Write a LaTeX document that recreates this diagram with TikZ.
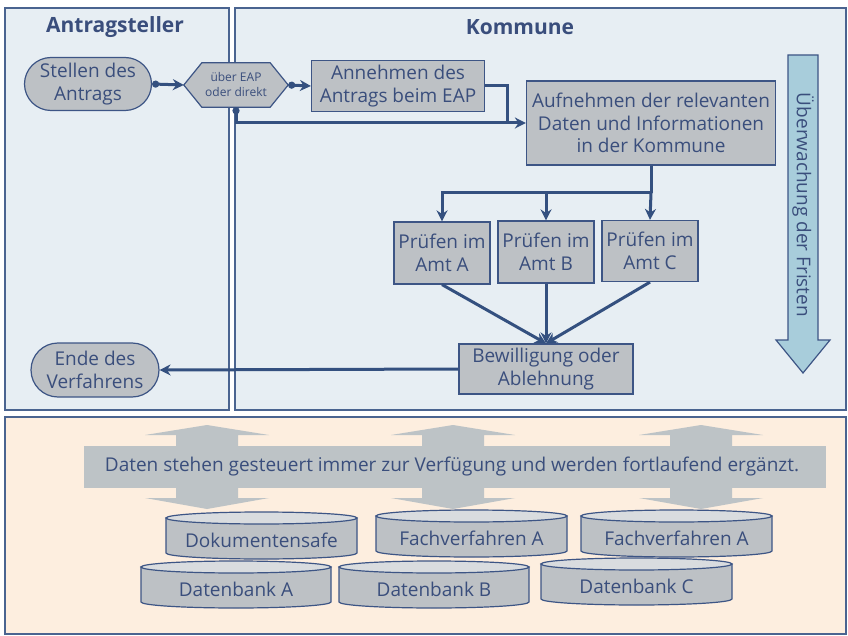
\documentclass[tikz,border=0pt]{standalone}
\usepackage{fontspec}
\setmainfont{Open Sans}
\usetikzlibrary{shapes.misc,arrows.meta,calc}
\definecolor{panelfill}{HTML}{E7EEF3}
\definecolor{panelline}{HTML}{4A6490}
\definecolor{nodefill}{HTML}{BDC1C5}
\definecolor{nodeline}{HTML}{3D5585}
\definecolor{txtcol}{HTML}{3A4E7C}
\definecolor{conn}{HTML}{34507F}
\definecolor{arrowfill}{HTML}{A8CDDB}
\definecolor{basefill}{HTML}{FDEEDF}
\definecolor{bandfill}{HTML}{BDC3C6}
\definecolor{disktop}{HTML}{D9DCDF}
\tikzset{
  panel/.style={draw=panelline,line width=1.2pt,fill=panelfill},
  title/.style={text=txtcol,font=\fontsize{21}{25}\selectfont\bfseries},
  txt/.style={text=txtcol,font=\fontsize{19}{22.5}\selectfont,align=center,inner sep=0pt},
  procbox/.style={draw=nodeline,line width=1.2pt,fill=nodefill,text=txtcol,font=\fontsize{19}{22.5}\selectfont,align=center,inner sep=1pt},
  pill/.style={procbox,rounded rectangle},
  conline/.style={draw=conn,line width=3pt},
  arr/.style={conline,-{Stealth[length=11pt,width=11pt]}},
  dotarr/.style={conline,{Circle[length=7pt]}-{Stealth[length=11pt,width=11pt]}},
  diskline/.style={draw=nodeline,line width=1.2pt},
}
\newcommand\dbdisk[5]{%
  \pgfmathsetmacro\dcx{(#2+#3)/2}%
  \pgfmathsetmacro\drx{(#3-#2)/2}%
  \pgfmathsetmacro\dyt{#4+6}%
  \pgfmathsetmacro\dyb{#4+41}%
  \filldraw[diskline,fill=nodefill] (#2,\dyt) -- (#2,\dyb) arc[start angle=180,end angle=360,x radius=\drx pt,y radius=6pt] -- (#3,\dyt) -- cycle;
  \filldraw[diskline,fill=disktop] (\dcx,\dyt) ellipse[x radius=\drx pt,y radius=6pt];
  \node[txt] (#1) at (\dcx,{#4+28}) {#5};
}
\newcommand\duparrow[1]{%
  \fill[bandfill] ({#1-31},435) -- ({#1-62},435) -- (#1,425) -- ({#1+62},435) -- ({#1+31},435)
    -- ({#1+31},498) -- ({#1+62},498) -- (#1,509) -- ({#1-62},498) -- ({#1-31},498) -- cycle;
}
\begin{document}
\begin{tikzpicture}[x=1pt,y=-1pt]
\useasboundingbox (0,0) rectangle (848,636);
\fill[white] (0,0) rectangle (848,636);
% panels
\draw[panel] (5,8) rectangle (229,410);
\draw[panel] (235,8) rectangle (846,410);
\draw[panel,fill=basefill] (5,417) rectangle (846,634);
\node[title] (tA) at (115,27) {Antragsteller};
\node[title] (tK) at (520,27) {Kommune};
% Überwachung arrow
\filldraw[draw=nodeline,line width=1.2pt,fill=arrowfill] (788,55) -- (818,55) -- (818,340) -- (830,340) -- (803,373) -- (776,340) -- (788,340) -- cycle;
\node[txt,rotate=-90] (frist) at (803,205) {Überwachung der Fristen};
% nodes
\node[pill,minimum width=129,minimum height=53] (stell) at (88,84) {Stellen des\\Antrags};
\node[minimum width=104,minimum height=44,inner sep=0pt] (hex) at (236,85) {};
\filldraw[draw=nodeline,line width=1.2pt,fill=nodefill] (hex.west) -- ($(hex.north west)+(18,0)$) -- ($(hex.north east)+(-18,0)$) -- (hex.east) -- ($(hex.south east)+(-18,0)$) -- ($(hex.south west)+(18,0)$) -- cycle;
\node[txt,font=\fontsize{12}{15}\selectfont] (hextxt) at (hex.center) {über EAP\\oder direkt};
\node[procbox,minimum width=173,minimum height=51] (ann) at (398,86) {Annehmen des\\Antrags beim EAP};
\node[procbox,minimum width=249,minimum height=84] (aufn) at (651,123) {Aufnehmen der relevanten\\Daten und Informationen\\in der Kommune};
\node[procbox,minimum width=96,minimum height=62] (pA) at (442,253) {Prüfen im\\Amt A};
\node[procbox,minimum width=96,minimum height=62] (pB) at (546,252) {Prüfen im\\Amt B};
\node[procbox,minimum width=96,minimum height=61] (pC) at (650,251) {Prüfen im\\Amt C};
\node[procbox,minimum width=174,minimum height=50] (bew) at (546,369) {Bewilligung oder\\Ablehnung};
\node[pill,minimum width=130,minimum height=54] (ende) at (95,370) {Ende des\\Verfahrens};
% connectors
\draw[dotarr] (stell.east) -- (hex.west);
\draw[dotarr] (hex.east) -- (ann.west);
\draw[dotarr] (hex.south) |- (aufn.west);
\coordinate (join) at (507,123);
\draw[conline] (ann.east) -| (join);
\coordinate (split) at (651,193);
\draw[conline] (aufn.south) -- (split);
\draw[arr] (split) -| (pA.north);
\draw[arr] (split) -| (pB.north);
\draw[arr] (split) -- (pC.north);
\draw[arr] (pA.south) -- (bew.north);
\draw[arr] (pB.south) -- (bew.north);
\draw[arr] (pC.south) -- (bew.north);
\draw[arr] (bew.west) -- (ende.east);
% bottom band
\fill[bandfill] (84,446) rectangle (826,488);
\duparrow{207}
\duparrow{453}
\duparrow{701}
\node[txt] (band) at (452,467) {Daten stehen gesteuert immer zur Verfügung und werden fortlaufend ergänzt.};
% databases
\dbdisk{dok}{166}{357}{512}{Dokumentensafe}
\dbdisk{fvA}{376}{567}{510}{Fachverfahren A}
\dbdisk{fvB}{581}{772}{510}{Fachverfahren A}
\dbdisk{dbA}{141}{331}{561}{Datenbank A}
\dbdisk{dbB}{339}{529}{561}{Datenbank B}
\dbdisk{dbC}{541}{732}{558}{Datenbank C}
\end{tikzpicture}
\end{document}
